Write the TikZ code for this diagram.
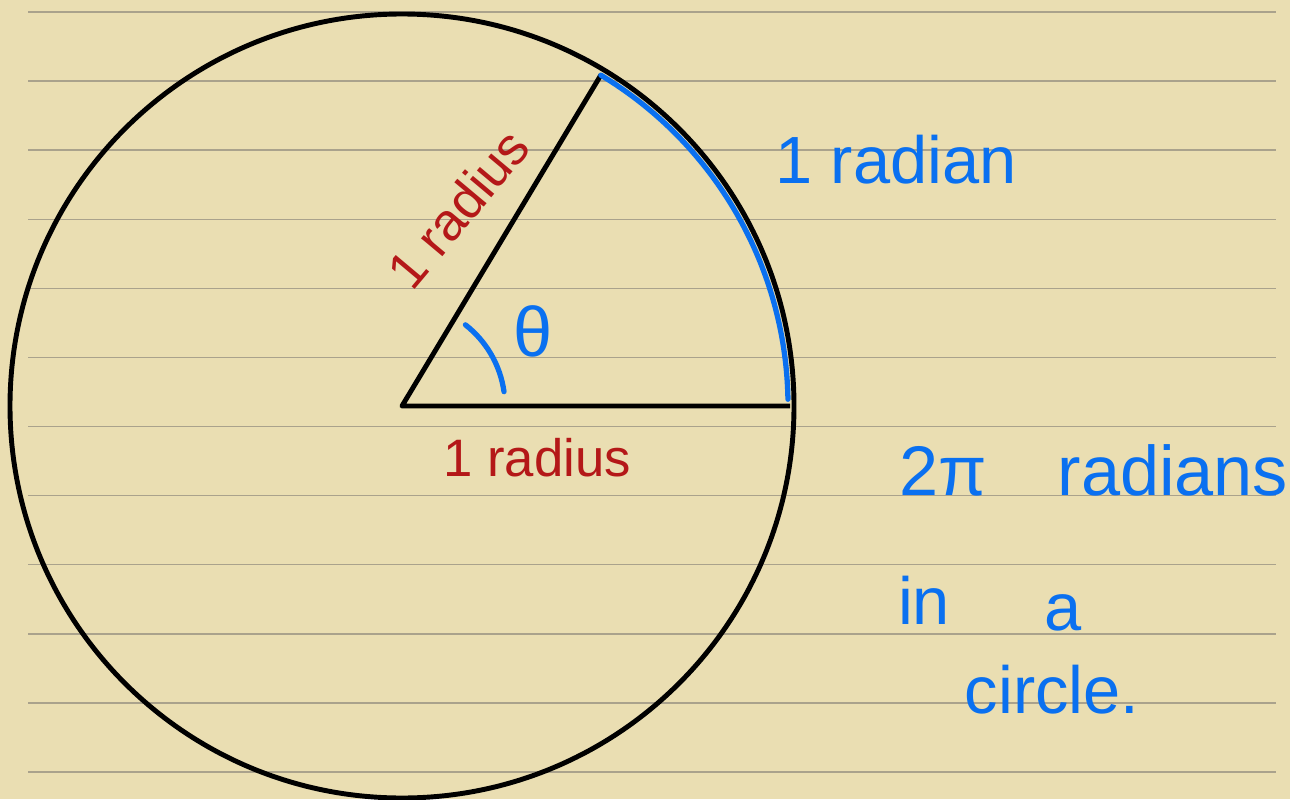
\documentclass[tikz,border=0pt]{standalone}
\usepackage{fontspec}
\setmainfont{Liberation Sans}
\usetikzlibrary{positioning}
\usetikzlibrary{calc}
\definecolor{paper}{RGB}{234,222,178}
\definecolor{rule}{RGB}{170,162,140}
\definecolor{pen}{RGB}{10,112,240}
\definecolor{ink}{RGB}{180,24,24}

\begin{document}
\begin{tikzpicture}[x=0.02cm, y=0.02cm,
    ruled/.style={rule, line width=0.8pt},
    chalk/.style={black, line width=2.8pt},
    bluepen/.style={pen, line width=3pt, line cap=round},
    redtxt/.style={ink, font=\fontsize{30}{32}\selectfont, inner sep=0pt},
    bluetxt/.style={pen, font=\fontsize{38}{40}\selectfont, inner sep=0pt}]

    % paper and ruled lines
    \fill[paper] (0,0) rectangle (1290,799);
    \useasboundingbox (0,0) rectangle (1290,799);
    \foreach \k in {0,...,11}
        \draw[ruled] (28,{787-69.09*\k}) -- (1276,{787-69.09*\k});

    \coordinate (o) at (402,393);
    \coordinate (a) at ($(o)+(0:388)$);
    \coordinate (b) at ($(o)+(59:386)$);

    \draw[chalk] (o) circle[radius=392];
    \draw[chalk, line join=round] (a) -- (o) -- (b);

    \draw[bluepen] (b) arc[start angle=59, end angle=1, radius=386];
    \draw[bluepen] ($(o)+(52:103)$) arc[start angle=52, end angle=8, radius=103];

    \node[bluetxt] (rad) at (896,639) {1 radian};
    \node[redtxt] (r0) at (537,341) {1 radius};
    \node[redtxt, rotate=50] (r1) at (458,590) {1 radius};
    \node[bluetxt, font=\fontsize{40}{42}\selectfont] (th) at (533,468) {θ};

    \node[bluetxt, font=\fontsize{40}{42}\selectfont] (full) at (1094,329) {2π\quad radians};
    \node[bluetxt] (in) at (924,199) {in};
    \node[bluetxt] (art) at (1063,186) {a};
    \node[bluetxt] (circ) at (1052,109) {circle.};

\end{tikzpicture}
\end{document}
